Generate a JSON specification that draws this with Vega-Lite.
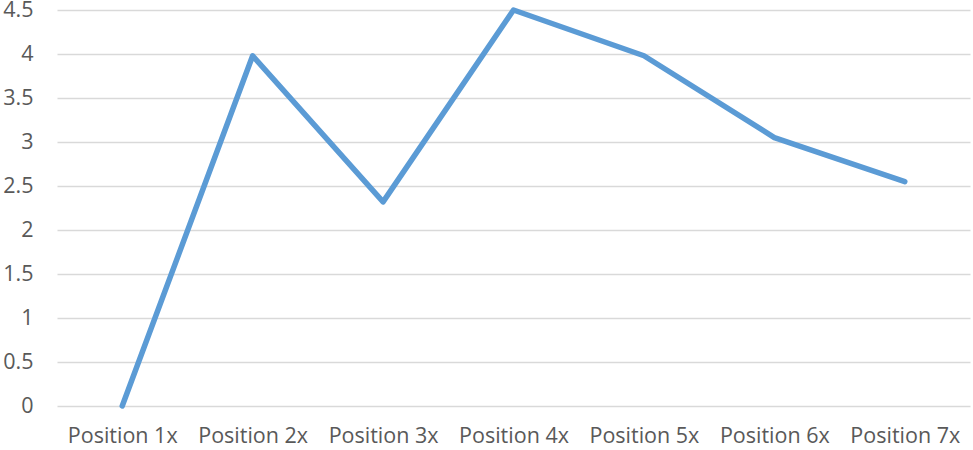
{
  "$schema": "https://vega.github.io/schema/vega-lite/v6.json",
  "width": 913,
  "height": 396,
  "autosize": {"type": "none"},
  "padding": {"left": 57, "top": 10, "right": 3, "bottom": 44},
  "background": "white",
  "config": {"view": {"stroke": null}, "font": "Open Sans"},
  "data": {"values": [
    {"position": "Position 1x", "value": 0},
    {"position": "Position 2x", "value": 3.98},
    {"position": "Position 3x", "value": 2.32},
    {"position": "Position 4x", "value": 4.5},
    {"position": "Position 5x", "value": 3.98},
    {"position": "Position 6x", "value": 3.05},
    {"position": "Position 7x", "value": 2.55}
  ]},
  "mark": {"type": "line", "color": "#5B9BD5", "strokeWidth": 5.5, "strokeCap": "round", "strokeJoin": "round"},
  "encoding": {
    "x": {
      "field": "position", "type": "ordinal", "sort": null,
      "scale": {"paddingInner": 0, "paddingOuter": 0},
      "axis": {"title": null, "labelAngle": 0, "domain": false, "ticks": false, "grid": false,
               "labelFontSize": 21.5, "labelColor": "#595959", "labelPadding": 19, "labelFont": "Open Sans"}
    },
    "y": {
      "field": "value", "type": "quantitative",
      "scale": {"domain": [0, 4.5], "nice": false},
      "axis": {"title": null, "values": [0, 0.5, 1, 1.5, 2, 2.5, 3, 3.5, 4, 4.5], "domain": false, "ticks": false,
               "grid": true, "gridColor": "#D9D9D9", "gridWidth": 1.5,
               "labelFontSize": 21.5, "labelColor": "#595959", "labelPadding": 24, "labelFont": "Open Sans",
               "format": "~g"}
    }
  }
}
